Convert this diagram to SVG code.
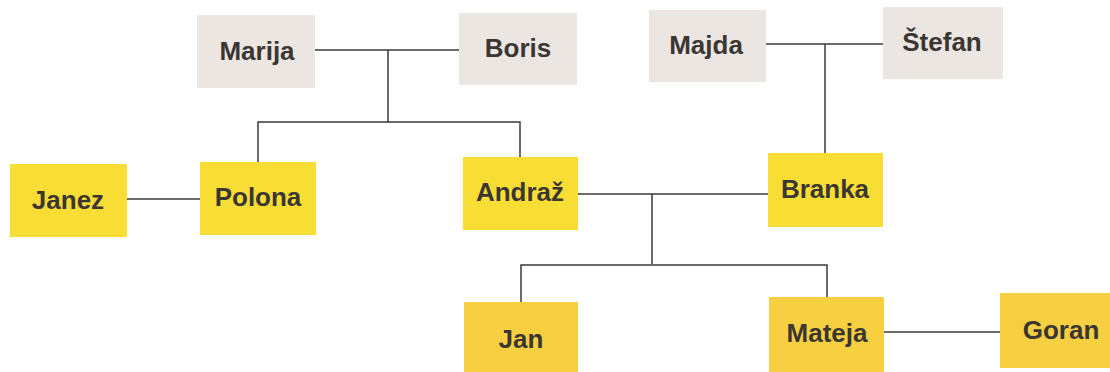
<svg xmlns="http://www.w3.org/2000/svg" width="1110" height="372" viewBox="0 0 1110 372">
<style>
.g{fill:#ebe6e2}
.y{fill:#f8de34}
.o{fill:#f6d040}
text{font-family:"Liberation Sans",Arial,sans-serif;font-weight:bold;font-size:26px;fill:#3b3632;text-anchor:middle;dominant-baseline:central}
#connectors path{fill:none;stroke:#3a3a3a;stroke-width:1.5}
</style>
<rect width="1110" height="372" fill="#ffffff"/>
<g id="connectors">
<path d="M315 50H459"/>
<path d="M388 50V122M258 162V122H520V157"/>
<path d="M766 44H883"/>
<path d="M825 44V153"/>
<path d="M127 199H200"/>
<path d="M578 194H768"/>
<path d="M652 194V264M521 302V265H827V297"/>
<path d="M884 332H1000"/>
</g>
<g id="marija"><rect class="g" x="197" y="15" width="118" height="73"/><text x="257" y="51">Marija</text></g>
<g id="boris"><rect class="g" x="459" y="13" width="118" height="72"/><text x="518" y="48">Boris</text></g>
<g id="majda"><rect class="g" x="649" y="10" width="117" height="72"/><text x="706" y="45">Majda</text></g>
<g id="stefan"><rect class="g" x="883" y="7" width="120" height="72"/><text x="942" y="42">Štefan</text></g>
<g id="janez"><rect class="y" x="10" y="164" width="117" height="73"/><text x="68" y="200">Janez</text></g>
<g id="polona"><rect class="y" x="200" y="162" width="116" height="73"/><text x="258" y="197">Polona</text></g>
<g id="andraz"><rect class="y" x="463" y="157" width="115" height="73"/><text x="520" y="192">Andraž</text></g>
<g id="branka"><rect class="y" x="768" y="153" width="115" height="74"/><text x="825" y="189">Branka</text></g>
<g id="jan"><rect class="o" x="464" y="302" width="114" height="70"/><text x="521" y="339">Jan</text></g>
<g id="mateja"><rect class="o" x="769" y="297" width="115" height="75"/><text x="827" y="333">Mateja</text></g>
<g id="goran"><rect class="o" x="1000" y="293" width="110" height="75"/><text x="1061" y="330">Goran</text></g>
</svg>
